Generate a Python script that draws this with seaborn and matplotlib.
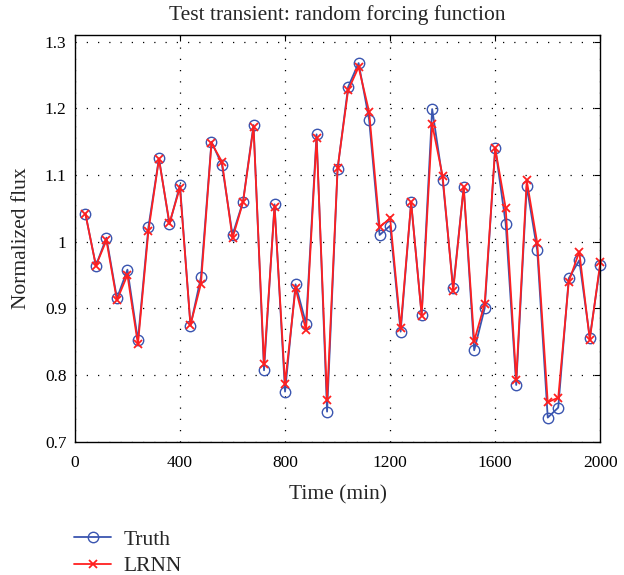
import numpy as np
import pandas as pd
import matplotlib
matplotlib.use("Agg")
import matplotlib.pyplot as plt
import seaborn as sns

time_min = list(range(40, 2001, 40))
truth = [1.042, 0.964, 1.006, 0.915, 0.958, 0.852, 1.022, 1.125, 1.026, 1.085,
         0.874, 0.947, 1.150, 1.115, 1.010, 1.060, 1.175, 0.807, 1.056, 0.775,
         0.936, 0.877, 1.161, 0.745, 1.109, 1.232, 1.268, 1.183, 1.010, 1.024,
         0.865, 1.059, 0.890, 1.199, 1.093, 0.930, 1.082, 0.837, 0.900, 1.141,
         1.027, 0.785, 1.083, 0.987, 0.736, 0.751, 0.945, 0.972, 0.856, 0.965]
lrnn = [1.042, 0.964, 1.002, 0.912, 0.950, 0.846, 1.016, 1.124, 1.028, 1.081,
        0.875, 0.937, 1.148, 1.120, 1.005, 1.059, 1.172, 0.816, 1.052, 0.787,
        0.930, 0.867, 1.155, 0.763, 1.110, 1.227, 1.262, 1.195, 1.022, 1.035,
        0.871, 1.059, 0.889, 1.176, 1.098, 0.926, 1.082, 0.851, 0.907, 1.140,
        1.050, 0.793, 1.092, 0.998, 0.759, 0.766, 0.940, 0.985, 0.853, 0.969]
xticks = [0, 400, 800, 1200, 1600, 2000]
yticks = [0.7, 0.8, 0.9, 1.0, 1.1, 1.2, 1.3]
ytick_labels = ["0.7", "0.8", "0.9", "1", "1.1", "1.2", "1.3"]

df = pd.DataFrame({"Time": time_min, "Truth": truth, "LRNN": lrnn})

sns.set_theme(style="white")
plt.rcParams["font.family"] = ["Liberation Serif", "DejaVu Serif"]
plt.rcParams["font.size"] = 12

fig = plt.figure(figsize=(6.24, 5.75), dpi=100)
ax = fig.add_axes([0.120, 0.232, 0.842, 0.707])

blue = "#3a55b0"
red = "#ff2020"
sns.lineplot(data=df, x="Time", y="Truth", ax=ax, color=blue, lw=1.3,
             marker="o", markersize=7.5, markerfacecolor="none",
             markeredgecolor=blue, markeredgewidth=1.0, label="Truth",
             clip_on=False)
sns.lineplot(data=df, x="Time", y="LRNN", ax=ax, color=red, lw=1.3,
             marker="x", markersize=5.5, markeredgecolor=red,
             markeredgewidth=1.3, label="LRNN", clip_on=False)

ax.set_xlim(0, 2000)
ax.set_ylim(0.7, 1.31)
ax.set_xticks(xticks)
ax.set_yticks(yticks)
ax.set_yticklabels(ytick_labels)
ax.tick_params(direction="in", top=True, right=True, length=4, width=0.8,
               labelsize=12.5, colors="black", pad=6)
ax.tick_params(axis="x", pad=10)
ax.grid(True, color="black", linestyle=(0, (1, 8)), linewidth=0.9)
for s in ax.spines.values():
    s.set_color("black")
    s.set_linewidth(1.0)

ax.set_title("Test transient: random forcing function", fontsize=15.5, pad=11)
ax.set_xlabel("Time (min)", fontsize=15.5, labelpad=10)
ax.set_ylabel("Normalized flux", fontsize=15.5, labelpad=10)

handles, labels = ax.get_legend_handles_labels()
ax.legend_.remove()
fig.legend(handles, labels, loc="lower left", bbox_to_anchor=(0.088, -0.036),
           frameon=False, fontsize=15.5, handlelength=1.7, labelspacing=0.3,
           handletextpad=0.6)

fig.savefig("out.png", dpi=100)
